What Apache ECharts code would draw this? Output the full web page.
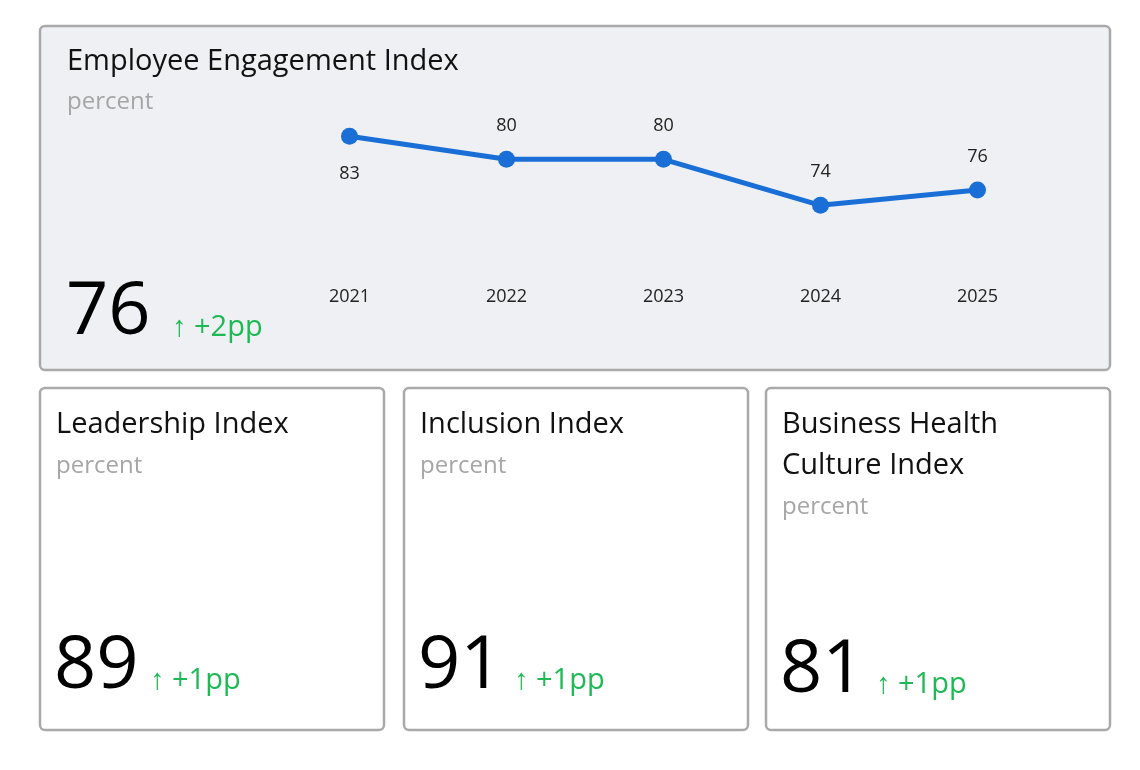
<!DOCTYPE html>
<html>
<head>
<meta charset="utf-8">
<script src="https://cdn.jsdelivr.net/npm/echarts@6/dist/echarts.min.js"></script>
<style>
  html, body { margin: 0; padding: 0; background: #fff; }
  #main { width: 1140px; height: 770px; }
</style>
</head>
<body>
<div id="main"></div>
<script>
// trend data
const years = ['2021', '2022', '2023', '2024', '2025']
const engagement = [83, 80, 80, 74, 76]
// cards
const cardTitles = [['Leadership Index'], ['Inclusion Index'], ['Business Health', 'Culture Index']]
const cardValues = ['89', '91', '81']
const cardDeltas = ['↑ +1pp', '↑ +1pp', '↑ +1pp']

const chart = echarts.init(document.getElementById('main'))
const font = 'Open Sans, Noto Sans, sans-serif'
const green = '#1db954'

// 卡片背景和文字
const graphics = [{
  type: 'rect', z: -10,
  shape: { x: 40, y: 26, width: 1070, height: 344, r: 5 },
  style: { fill: '#eef0f3', stroke: '#a9a9a9', lineWidth: 2.5 }
}, {
  type: 'text', left: 67, top: 47,
  style: { text: 'Employee Engagement Index', font: '29px ' + font, fill: '#111' }
}, {
  type: 'text', left: 67, top: 90,
  style: { text: 'percent', font: '24px ' + font, fill: '#a6a6a6' }
}, {
  type: 'text', left: 66, top: 276,
  style: { text: '76', font: '74px ' + font, fill: '#000' }
}, {
  type: 'text', left: 172, top: 313,
  style: { text: '↑ +2pp', font: '29px ' + font, fill: green }
}]

const xs = [40, 404, 766]
for (let i = 0; i < 3; i++) {
  const x = xs[i]
  graphics.push({
    type: 'rect', z: -10,
    shape: { x: x, y: 388, width: 344, height: 342, r: 5 },
    style: { fill: '#fff', stroke: '#a9a9a9', lineWidth: 2.5 }
  })
  cardTitles[i].forEach((t, j) => {
    graphics.push({
      type: 'text', left: x + 16, top: 410 + j * 41,
      style: { text: t, font: '29px ' + font, fill: '#111' }
    })
  })
  const off = (cardTitles[i].length - 1) * 41
  graphics.push({
    type: 'text', left: x + 16, top: 454 + off,
    style: { text: 'percent', font: '24px ' + font, fill: '#a6a6a6' }
  })
  graphics.push({
    type: 'text', left: x + 14, top: 630 + (i === 2 ? 4 : 0),
    style: { text: cardValues[i], font: '74px ' + font, fill: '#000' }
  })
  graphics.push({
    type: 'text', left: x + 110, top: 666 + (i === 2 ? 4 : 0),
    style: { text: cardDeltas[i], font: '29px ' + font, fill: green }
  })
}

let option = {
  animation: false,
  graphic: graphics,
  grid: { left: 271, width: 785, top: 121, height: 115 },
  xAxis: {
    type: 'category', data: years, boundaryGap: true,
    axisLine: { show: false }, axisTick: { show: false },
    axisLabel: { margin: 52, fontSize: 18, color: '#222', fontFamily: font }
  },
  yAxis: { type: 'value', min: 70, max: 85, show: false, splitLine: { show: false } },
  series: [{
    type: 'line',
    data: engagement.map((v, i) => ({
      value: v,
      label: { position: i === 0 ? 'bottom' : 'top', distance: i === 0 ? 20 : 16 }
    })),
    symbol: 'circle', symbolSize: 17,
    lineStyle: { width: 5, color: '#1a6fd6' },
    itemStyle: { color: '#1a6fd6' },
    label: { show: true, fontSize: 18, color: '#222', fontFamily: font }
  }]
}
chart.setOption(option)
</script>
</body>
</html>
